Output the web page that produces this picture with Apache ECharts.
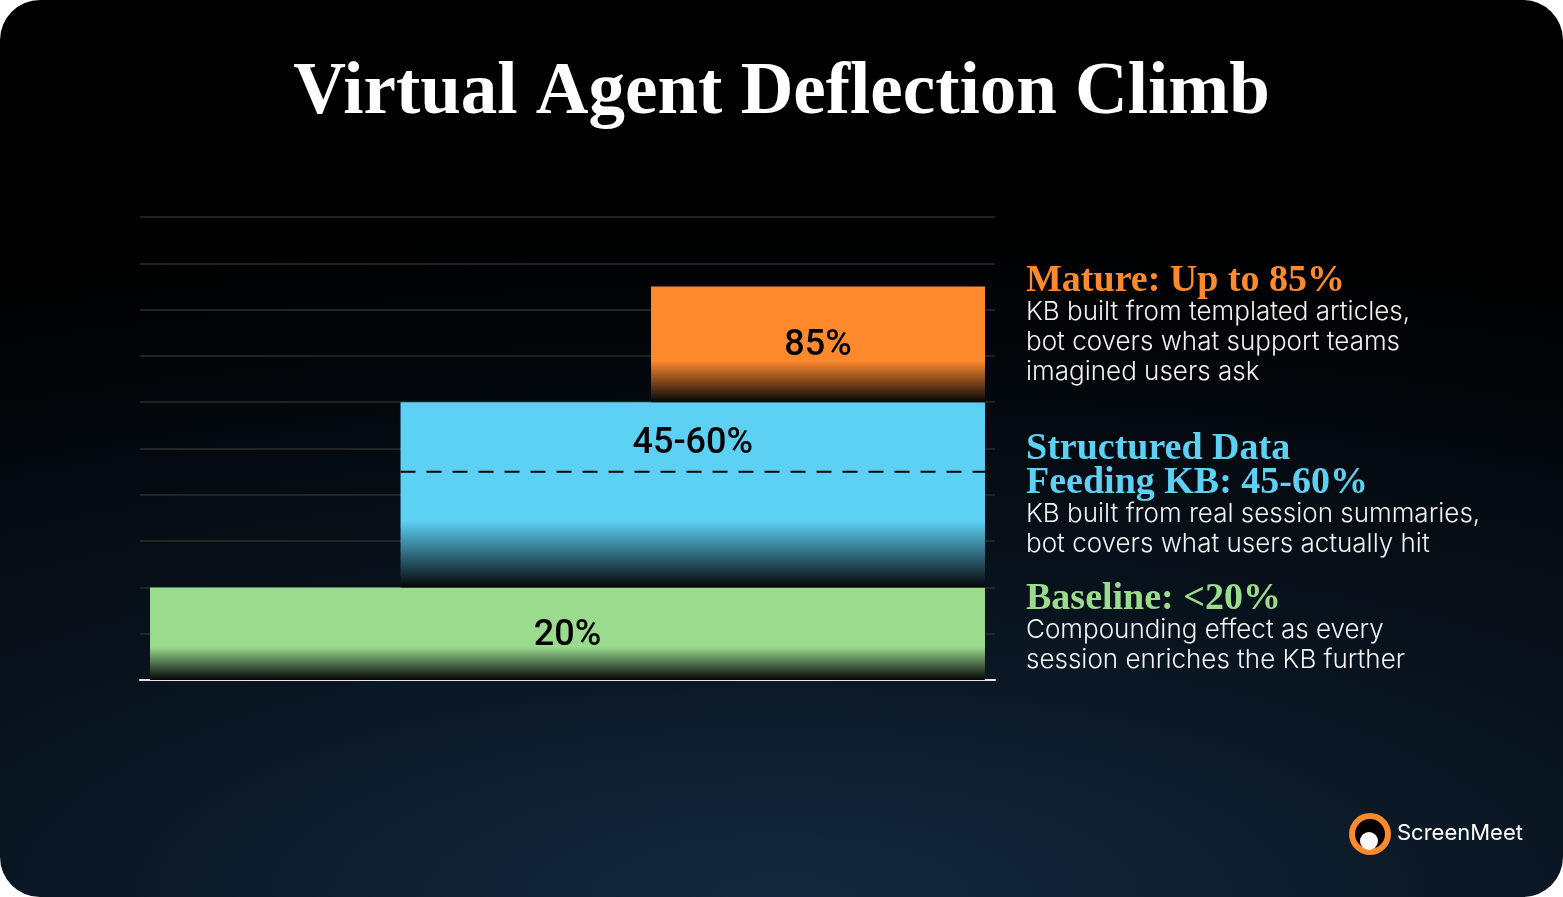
<!DOCTYPE html>
<html>
<head>
<meta charset="utf-8">
<script src="https://cdn.jsdelivr.net/npm/echarts@6/dist/echarts.min.js"></script>
<style>
  html, body { margin: 0; padding: 0; background: #ffffff; }
  #chart {
    width: 1563px; height: 897px; border-radius: 40px; overflow: hidden;
    background: radial-gradient(130% 75% at 50% 100%, #14293f 0%, #08131e 45%, #000000 100%);
  }
</style>
</head>
<body>
<div id="chart"></div>
<script>
// ---- data ----
const tiers = ['Baseline', 'Structured Data Feeding KB', 'Mature'];
const lowValues = [0, 20, 60];
const highValues = [20, 60, 85];
const rangeFloor = [null, 45, null];
const stepStart = [0, 1, 2];
const stepEnd = [3.333, 3.333, 3.333];
const barLabels = ['20%', '45-60%', '85%'];
const tierColors = ['#9ADB8E', '#5CD1F4', '#FF8A2E'];
const yTicks = [0, 10, 20, 30, 40, 50, 60, 70, 80, 90, 100];

const headings = [
  { lines: ['Mature: Up to 85%'], body: ['KB built from templated articles,', 'bot covers what support teams', 'imagined users ask'], color: '#FF8A2E', y: 262 },
  { lines: ['Structured Data', 'Feeding KB: 45-60%'], body: ['KB built from real session summaries,', 'bot covers what users actually hit'], color: '#5CD1F4', y: 430 },
  { lines: ['Baseline: <20%'], body: ['Compounding effect as every', 'session enriches the KB further'], color: '#9ADB8E', y: 580 }
];

const chart = echarts.init(document.getElementById('chart'), null, { renderer: 'canvas' });

const data = tiers.map((t, i) => [stepStart[i], stepEnd[i], lowValues[i], highValues[i], i]);

function renderItem(params, api) {
  const i = api.value(4);
  const p0 = api.coord([api.value(0), api.value(3)]);
  const p1 = api.coord([api.value(1), api.value(2)]);
  const x = p0[0], y = p0[1], w = p1[0] - p0[0], h = p1[1] - p0[1];
  const col = tierColors[i];
  const children = [{
    type: 'rect',
    shape: { x: x, y: y, width: w, height: h },
    style: {
      fill: new echarts.graphic.LinearGradient(0, 0, 0, 1, [
        { offset: 0, color: col },
        { offset: 0.64, color: col },
        { offset: 1, color: '#040507' }
      ])
    }
  }];
  let labelY = (y + p1[1]) / 2 + 2;
  if (rangeFloor[i] != null) {
    const dy = api.coord([0, rangeFloor[i]])[1];
    children.push({
      type: 'line',
      shape: { x1: x, y1: dy, x2: x + w, y2: dy },
      style: { stroke: '#000000', lineWidth: 2, lineDash: [15, 11] }
    });
    labelY = (y + dy) / 2 + 7;
  }
  children.push({
    type: 'text',
    style: {
      text: barLabels[i], x: x + w / 2, y: labelY,
      align: 'center', verticalAlign: 'middle',
      font: '500 36px Roboto', fill: '#000000'
    }
  });
  return { type: 'group', children: children };
}

const graphics = [];
headings.forEach(hd => {
  let yy = hd.y;
  hd.lines.forEach((l, k) => {
    graphics.push({ type: 'text', left: 1026, top: yy, style: { text: l, font: 'bold 38px "Liberation Serif"', fill: hd.color } });
    if (k < hd.lines.length - 1) yy += 34;
  });
  yy += 37;
  hd.body.forEach(b => {
    graphics.push({ type: 'text', left: 1026, top: yy, style: { text: b, font: '300 26px Inter', fill: '#f2f2f2' } });
    yy += 30;
  });
});
// logo
graphics.push({ type: 'circle', shape: { cx: 1370, cy: 834, r: 21 }, style: { fill: '#FF8A2E' } });
graphics.push({ type: 'circle', shape: { cx: 1370, cy: 834, r: 15 }, style: { fill: '#000000' } });
graphics.push({ type: 'circle', shape: { cx: 1369, cy: 841, r: 9 }, style: { fill: '#ffffff' } });
graphics.push({ type: 'text', left: 1397, top: 822, style: { text: 'ScreenMeet', font: '400 22px Inter', fill: '#ffffff' } });

chart.setOption({
  backgroundColor: 'transparent',
  animation: false,
  title: {
    text: 'Virtual Agent Deflection Climb',
    left: 'center', top: 53,
    textStyle: { color: '#ffffff', fontFamily: 'Liberation Serif', fontWeight: 'bold', fontSize: 73 }
  },
  grid: { left: 140, right: 568, top: 217, bottom: 217 },
  xAxis: {
    type: 'value', min: -0.04, max: 3.373,
    axisLine: { show: true, onZero: false, lineStyle: { color: '#e8e8e8', width: 2 } },
    axisTick: { show: false }, axisLabel: { show: false }, splitLine: { show: false }
  },
  yAxis: {
    type: 'value', min: yTicks[0], max: yTicks[yTicks.length - 1], interval: 10,
    axisLine: { show: false }, axisTick: { show: false }, axisLabel: { show: false },
    splitLine: { show: true, lineStyle: { color: '#2c2c2c', width: 1.5 } }
  },
  series: [{
    type: 'custom',
    renderItem: renderItem,
    data: data,
    encode: { x: [0, 1], y: [2, 3] },
    z: 3
  }],
  graphic: graphics
});
</script>
</body>
</html>
